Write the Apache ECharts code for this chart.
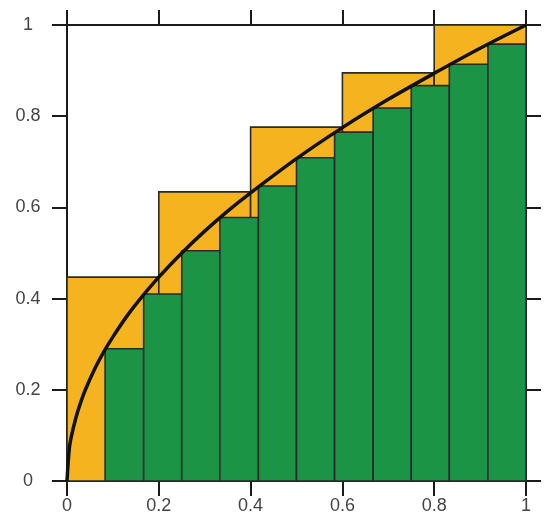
<!DOCTYPE html>
<html>
<head>
<meta charset="utf-8">
<script src="https://cdn.jsdelivr.net/npm/echarts@6/dist/echarts.min.js"></script>
<style>
html, body { margin: 0; padding: 0; background: #fff; }
#main { width: 547px; height: 518px; }
</style>
</head>
<body>
<div id="main"></div>
<script>
// upper sum: 5 strips of width 0.2
var upperLeft = [0, 0.2, 0.4, 0.6, 0.8];
var upperRight = [0.2, 0.4, 0.6, 0.8, 1.0];
var upperHeight = [0.447, 0.634, 0.776, 0.895, 1.0];

// lower sum: 11 strips of width 1/12
var lowerLeft = [0.083, 0.167, 0.25, 0.333, 0.417, 0.5, 0.583, 0.667, 0.75, 0.833, 0.917];
var lowerRight = [0.167, 0.25, 0.333, 0.417, 0.5, 0.583, 0.667, 0.75, 0.833, 0.917, 1.0];
var lowerHeight = [0.29, 0.41, 0.505, 0.578, 0.647, 0.709, 0.765, 0.818, 0.867, 0.914, 0.958];

// curve points
var curveX = [0, 0.005, 0.01, 0.02, 0.03, 0.04, 0.06, 0.08, 0.1, 0.13, 0.16, 0.2, 0.25, 0.3, 0.35, 0.4, 0.5, 0.6, 0.7, 0.8, 0.9, 1.0];
var curveY = [0, 0.071, 0.1, 0.141, 0.173, 0.2, 0.245, 0.283, 0.316, 0.361, 0.4, 0.447, 0.5, 0.548, 0.592, 0.632, 0.707, 0.775, 0.837, 0.894, 0.949, 1.0];

var ticks = ['0', '0.2', '0.4', '0.6', '0.8', '1'];

function rects(left, right, height) {
    var out = [];
    for (var i = 0; i < left.length; i++) {
        out.push([left[i], right[i], height[i]]);
    }
    return out;
}

function rectItem(fill) {
    return function (params, api) {
        var p0 = api.coord([api.value(0), 0]);
        var p1 = api.coord([api.value(1), api.value(2)]);
        return {
            type: 'rect',
            shape: { x: p0[0], y: p1[1], width: p1[0] - p0[0], height: p0[1] - p1[1] },
            style: { fill: fill, stroke: '#2a2a2a', lineWidth: 1.6 }
        };
    };
}

var curve = [];
for (var i = 0; i < curveX.length; i++) {
    curve.push([curveX[i], curveY[i]]);
}

var lineCol = '#1a1a1a';
function axis(pos, showLabel) {
    return {
        type: 'value',
        position: pos,
        min: 0,
        max: 1,
        interval: 0.2,
        splitLine: { show: false },
        axisLine: { show: true, onZero: false, lineStyle: { color: lineCol, width: 2 } },
        axisTick: { show: true, inside: false, length: 15, lineStyle: { color: lineCol, width: 2 } },
        axisLabel: {
            show: showLabel,
            margin: pos === 'left' ? 39 : 16,
            align: 'center',
            fontFamily: 'Liberation Sans, Arial, sans-serif',
            fontSize: 18,
            color: '#444',
            formatter: function (v) { return ticks[Math.round(v * 5)]; }
        }
    };
}

var chart = echarts.init(document.getElementById('main'));
chart.setOption({
    animation: false,
    grid: { left: 67, right: 21, top: 25, bottom: 37 },
    xAxis: [axis('bottom', true), axis('top', false)],
    yAxis: [axis('left', true), axis('right', false)],
    series: [
        {
            type: 'custom',
            renderItem: rectItem('#f5b41f'),
            data: rects(upperLeft, upperRight, upperHeight),
            z: 1
        },
        {
            type: 'custom',
            renderItem: rectItem('#1c9446'),
            data: rects(lowerLeft, lowerRight, lowerHeight),
            z: 2
        },
        {
            type: 'line',
            data: curve,
            smooth: 0.3,
            showSymbol: false,
            lineStyle: { color: '#111', width: 3.5 },
            z: 3
        }
    ]
});
</script>
</body>
</html>
